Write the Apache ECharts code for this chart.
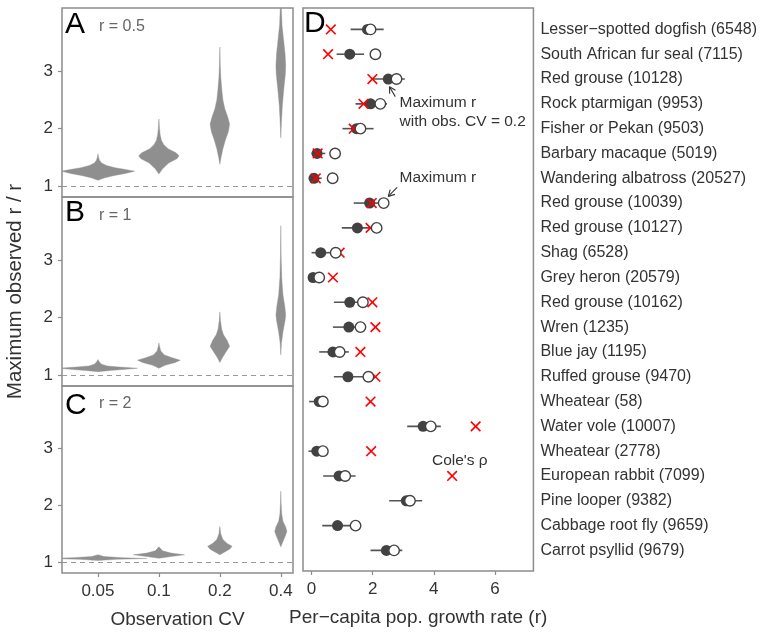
<!DOCTYPE html>
<html>
<head>
<meta charset="utf-8">
<script src="https://cdn.jsdelivr.net/npm/echarts@6/dist/echarts.min.js"></script>
<style>
html, body { margin: 0; padding: 0; background: #fff; }
#chart { width: 760px; height: 632px; }
</style>
</head>
<body>
<div id="chart"></div>
<script>
// ---- panels A-C: simulated max observed r / true r ----
var cvLabels = ['0.05', '0.1', '0.2', '0.4'];
var panelLetters = ['A', 'B', 'C'];
var panelR = ['r = 0.5', 'r = 1', 'r = 2'];
var ratioTicks = [1, 2, 3];

// violin outlines, one list per CV: [ratio, half-width in CV steps]
var violinsA = [
  [[1.10, 0], [1.14, 0.10], [1.18, 0.25], [1.22, 0.45], [1.26, 0.60], [1.29, 0.45], [1.32, 0.28], [1.36, 0.14], [1.40, 0.06], [1.45, 0.025], [1.50, 0.01], [1.56, 0]],
  [[1.21, 0], [1.30, 0.06], [1.40, 0.16], [1.48, 0.30], [1.53, 0.33], [1.58, 0.28], [1.65, 0.15], [1.72, 0.08], [1.80, 0.04], [1.90, 0.02], [2.00, 0.01], [2.17, 0]],
  [[1.38, 0], [1.50, 0.02], [1.65, 0.05], [1.80, 0.09], [1.95, 0.14], [2.08, 0.16], [2.20, 0.13], [2.35, 0.08], [2.50, 0.05], [2.70, 0.03], [2.90, 0.015], [3.10, 0.007], [3.42, 0]],
  [[1.84, 0], [2.10, 0.01], [2.40, 0.025], [2.70, 0.05], [2.95, 0.075], [3.10, 0.08], [3.30, 0.07], [3.55, 0.045], [3.80, 0.02], [4.20, 0.005], [4.50, 0]]
];
var violinsB = [
  [[1.06, 0], [1.08, 0.20], [1.10, 0.45], [1.12, 0.65], [1.14, 0.35], [1.16, 0.15], [1.19, 0.06], [1.23, 0.02], [1.27, 0]],
  [[1.12, 0], [1.17, 0.10], [1.22, 0.27], [1.26, 0.35], [1.30, 0.22], [1.35, 0.09], [1.42, 0.03], [1.50, 0.01], [1.56, 0]],
  [[1.22, 0], [1.30, 0.04], [1.40, 0.10], [1.50, 0.16], [1.60, 0.12], [1.70, 0.06], [1.80, 0.03], [1.95, 0.01], [2.10, 0]],
  [[1.35, 0], [1.55, 0.01], [1.75, 0.035], [1.95, 0.07], [2.05, 0.08], [2.20, 0.065], [2.40, 0.035], [2.70, 0.015], [3.10, 0.005], [3.60, 0]]
];
var violinsC = [
  [[1.03, 0], [1.05, 0.30], [1.065, 0.80], [1.08, 0.40], [1.10, 0.10], [1.13, 0]],
  [[1.07, 0], [1.10, 0.20], [1.13, 0.42], [1.16, 0.20], [1.20, 0.06], [1.27, 0]],
  [[1.13, 0], [1.18, 0.08], [1.23, 0.16], [1.28, 0.20], [1.33, 0.12], [1.40, 0.05], [1.50, 0.015], [1.63, 0]],
  [[1.27, 0], [1.35, 0.03], [1.45, 0.07], [1.54, 0.10], [1.62, 0.08], [1.72, 0.035], [1.85, 0.015], [2.05, 0.005], [2.25, 0]]
];
var violinSets = [violinsA, violinsB, violinsC];

// ---- panel D: per-species estimates ----
var species = [
  'Lesser\u2212spotted dogfish (6548)', 'South African fur seal (7115)', 'Red grouse (10128)',
  'Rock ptarmigan (9953)', 'Fisher or Pekan (9503)', 'Barbary macaque (5019)',
  'Wandering albatross (20527)', 'Red grouse (10039)', 'Red grouse (10127)', 'Shag (6528)',
  'Grey heron (20579)', 'Red grouse (10162)', 'Wren (1235)', 'Blue jay (1195)',
  'Ruffed grouse (9470)', 'Wheatear (58)', 'Water vole (10007)', 'Wheatear (2778)',
  'European rabbit (7099)', 'Pine looper (9382)', 'Cabbage root fly (9659)', 'Carrot psyllid (9679)'
];
var rObsCV = [1.83, 1.25, 2.51, 1.93, 1.47, 0.18, 0.08, 1.90, 1.50, 0.30, 0.05, 1.25, 1.22, 0.70, 1.19, 0.25, 3.65, 0.17, 0.90, 3.10, 0.85, 2.45];
var rMax   = [1.93, 2.09, 2.78, 2.25, 1.60, 0.77, 0.69, 2.36, 2.13, 0.79, 0.25, 1.68, 1.60, 0.92, 1.86, 0.37, 3.90, 0.37, 1.10, 3.22, 1.44, 2.70];
var ciLow  = [1.28, 0.82, 1.95, 1.44, 1.01, 0.00, -0.02, 1.38, 0.99, 0.00, 0.00, 0.73, 0.70, 0.25, 0.73, -0.08, 3.13, -0.10, 0.38, 2.54, 0.35, 1.93];
var ciHigh = [2.36, 1.72, 3.05, 2.47, 2.03, 0.45, 0.33, 2.40, 2.22, 0.80, 0.25, 1.75, 1.63, 1.22, 1.90, 0.54, 4.23, 0.50, 1.44, 3.62, 1.44, 2.97];
var coleRho = [0.63, 0.54, 1.99, 1.70, 1.38, 0.20, 0.14, 1.97, 1.93, 0.92, 0.70, 1.99, 2.09, 1.60, 2.09, 1.93, 5.37, 1.95, 4.60, null, null, null];
var rTicks = [0, 2, 4, 6];

// annotations in panel D data space
var noteText = ['Maximum r\nwith obs. CV = 0.2', 'Maximum r', 'Cole\'s \u03c1'];
var notePos = [[2.88, 2.57], [2.88, 5.58], [3.94, 16.99]];
var arrows = [[2.74, 2.71, 2.55, 2.31], [2.80, 6.37, 2.51, 6.73]];

var FONT = '"Liberation Sans", Arial, sans-serif';
var BORDER = '#8c8c8c';
var INK = '#333';

var myChart = echarts.init(document.getElementById('chart'));

var grids = [], xAxes = [], yAxes = [], series = [];
var panelTop = [8, 197, 386], panelH = [189, 189, 187];

for (var p = 0; p < 3; p++) {
  grids.push({ left: 62, top: panelTop[p], width: 231, height: panelH[p], show: true,
    borderColor: BORDER, borderWidth: 1.5, backgroundColor: 'transparent' });
  var isBottom = p === 2;
  xAxes.push({
    type: 'value', gridIndex: p, min: 0.41, max: 4.2,
    axisLine: { show: false, onZero: false }, splitLine: { show: false },
    axisTick: { show: isBottom, length: 4, customValues: [1, 2, 3, 4], lineStyle: { color: BORDER, width: 1.2 } },
    axisLabel: { show: isBottom, customValues: [1, 2, 3, 4], margin: 10, fontSize: 17, color: INK, fontFamily: FONT,
      formatter: function (v) { return cvLabels[Math.round(v) - 1]; } },
    name: isBottom ? 'Observation CV' : '', nameLocation: 'middle', nameGap: 37,
    nameTextStyle: { fontSize: 19, color: INK, fontFamily: FONT }
  });
  yAxes.push({
    type: 'value', gridIndex: p, min: 0.81, max: 4.1,
    axisLine: { show: false, onZero: false }, splitLine: { show: false },
    axisTick: { show: true, length: 4, customValues: ratioTicks, lineStyle: { color: BORDER, width: 1.2 } },
    axisLabel: { customValues: ratioTicks, margin: 9, fontSize: 17, color: INK, fontFamily: FONT },
    name: p === 1 ? 'Maximum observed r / r' : '', nameLocation: 'middle', nameGap: 36,
    nameTextStyle: { fontSize: 20.5, color: INK, fontFamily: FONT }
  });
  (function (profiles, idx) {
    series.push({
      type: 'custom', xAxisIndex: idx, yAxisIndex: idx, clip: true, silent: true,
      data: [[1, 1], [2, 1], [3, 1], [4, 1]],
      encode: { x: 0, y: 1 },
      renderItem: function (params, api) {
        var prof = profiles[params.dataIndex];
        var xc = api.value(0);
        var left = [], right = [];
        prof.forEach(function (pt) {
          left.push(api.coord([xc - pt[1], pt[0]]));
          right.push(api.coord([xc + pt[1], pt[0]]));
        });
        return { type: 'polygon', shape: { points: left.concat(right.reverse()) },
          style: { fill: '#8f8f8f', stroke: '#8f8f8f', lineWidth: 0.4 } };
      },
      markLine: { silent: true, symbol: 'none', label: { show: false },
        lineStyle: { type: [5, 4], color: '#9a9a9a', width: 1.2 }, data: [{ yAxis: 1 }] },
      z: 2
    });
  })(violinSets[p], p);
}

// panel D
grids.push({ left: 303, top: 8, width: 232, height: 565, show: true,
  borderColor: BORDER, borderWidth: 1.5, backgroundColor: 'transparent' });
xAxes.push({
  type: 'value', gridIndex: 3, min: -0.28, max: 7.26,
  axisLine: { show: false, onZero: false }, splitLine: { show: false },
  axisTick: { length: 4, customValues: rTicks, lineStyle: { color: BORDER, width: 1.2 } },
  axisLabel: { customValues: rTicks, margin: 10, fontSize: 17, color: INK, fontFamily: FONT },
  name: 'Per\u2212capita pop. growth rate (r)', nameLocation: 'middle', nameGap: 37,
  nameTextStyle: { fontSize: 19, color: INK, fontFamily: FONT }
});
var rowIdx = species.map(function (s, i) { return i; });
yAxes.push({
  type: 'value', gridIndex: 3, inverse: true, min: -0.863, max: 21.83, position: 'right',
  axisLine: { show: false, onZero: false }, splitLine: { show: false }, axisTick: { show: false },
  axisLabel: { customValues: rowIdx, margin: 7, fontSize: 16, color: INK, fontFamily: FONT, align: 'left',
    formatter: function (v) { return species[Math.round(v)]; } }
});

series.push({
  type: 'custom', xAxisIndex: 3, yAxisIndex: 3, silent: true, z: 3,
  data: rowIdx.map(function (i) { return [ciLow[i], ciHigh[i], i]; }),
  encode: { x: [0, 1], y: 2 },
  renderItem: function (params, api) {
    var a = api.coord([api.value(0), api.value(2)]);
    var b = api.coord([api.value(1), api.value(2)]);
    return { type: 'line', shape: { x1: a[0], y1: a[1], x2: b[0], y2: b[1] },
      style: { stroke: '#555', lineWidth: 1.6 } };
  }
});
series.push({
  type: 'scatter', xAxisIndex: 3, yAxisIndex: 3, silent: true, z: 4,
  symbol: 'circle', symbolSize: 11,
  itemStyle: { color: '#424242', opacity: 1 },
  data: rowIdx.map(function (i) { return [rObsCV[i], i]; })
});
series.push({
  type: 'custom', xAxisIndex: 3, yAxisIndex: 3, silent: true, z: 5,
  data: rowIdx.filter(function (i) { return coleRho[i] != null; })
    .map(function (i) { return [coleRho[i], i]; }),
  encode: { x: 0, y: 1 },
  renderItem: function (params, api) {
    var c = api.coord([api.value(0), api.value(1)]);
    var h = 4.8;
    var st = { stroke: '#ff0000', lineWidth: 1.6 };
    return { type: 'group', children: [
      { type: 'line', shape: { x1: c[0] - h, y1: c[1] - h, x2: c[0] + h, y2: c[1] + h }, style: st },
      { type: 'line', shape: { x1: c[0] - h, y1: c[1] + h, x2: c[0] + h, y2: c[1] - h }, style: st }
    ] };
  }
});
series.push({
  type: 'scatter', xAxisIndex: 3, yAxisIndex: 3, silent: true, z: 6,
  symbol: 'circle', symbolSize: 10.5,
  itemStyle: { color: '#fff', borderColor: '#424242', borderWidth: 1.4, opacity: 1 },
  data: rowIdx.map(function (i) { return [rMax[i], i]; })
});
series.push({
  type: 'custom', xAxisIndex: 3, yAxisIndex: 3, silent: true, z: 7,
  data: arrows,
  encode: { x: [0, 2], y: [1, 3] },
  renderItem: function (params, api) {
    var t = api.coord([api.value(0), api.value(1)]);
    var h = api.coord([api.value(2), api.value(3)]);
    var ang = Math.atan2(t[1] - h[1], t[0] - h[0]);
    var L = 7, s = 0.5;
    var st = { stroke: '#333', lineWidth: 1.1 };
    return { type: 'group', children: [
      { type: 'line', shape: { x1: t[0], y1: t[1], x2: h[0], y2: h[1] }, style: st },
      { type: 'line', shape: { x1: h[0], y1: h[1], x2: h[0] + L * Math.cos(ang + s), y2: h[1] + L * Math.sin(ang + s) }, style: st },
      { type: 'line', shape: { x1: h[0], y1: h[1], x2: h[0] + L * Math.cos(ang - s), y2: h[1] + L * Math.sin(ang - s) }, style: st }
    ] };
  }
});
series.push({
  type: 'custom', xAxisIndex: 3, yAxisIndex: 3, silent: true, z: 7,
  data: notePos,
  encode: { x: 0, y: 1 },
  renderItem: function (params, api) {
    var c = api.coord([api.value(0), api.value(1)]);
    return { type: 'text', x: c[0], y: c[1],
      style: { text: noteText[params.dataIndex], fill: '#333', fontSize: 15.5, fontFamily: FONT,
        lineHeight: 19, align: 'left', verticalAlign: 'top' } };
  }
});

// panel letters
var graphics = [];
var letterY = [26, 214, 407];
var rY = [28, 217, 405];
for (var k = 0; k < 3; k++) {
  graphics.push({ type: 'text', left: 65, top: letterY[k] - 16,
    style: { text: panelLetters[k], fontSize: 30, fill: '#000', fontFamily: FONT } });
  graphics.push({ type: 'text', left: 99, top: rY[k] - 9,
    style: { text: panelR[k], fontSize: 16, fill: '#666', fontFamily: FONT } });
}
graphics.push({ type: 'text', left: 304, top: 9,
  style: { text: 'D', fontSize: 30, fill: '#000', fontFamily: FONT } });

option = {
  animation: false,
  backgroundColor: '#fff',
  textStyle: { fontFamily: FONT },
  grid: grids,
  xAxis: xAxes,
  yAxis: yAxes,
  series: series,
  graphic: graphics
};

myChart.setOption(option, true);
</script>
</body>
</html>
